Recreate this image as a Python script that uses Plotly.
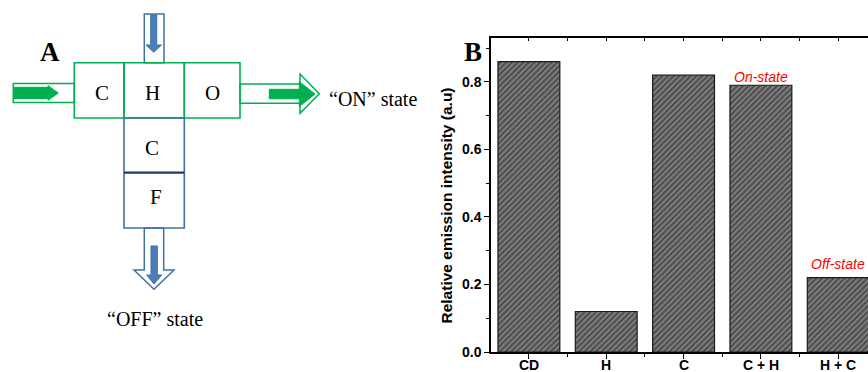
import plotly.graph_objects as go

# ---------------- data ----------------
categories = ["CD", "H", "C", "C + H", "H + C"]
values = [0.86, 0.12, 0.82, 0.79, 0.22]
ytick_vals = [0.0, 0.2, 0.4, 0.6, 0.8]
state_labels = {3: "On-state", 4: "Off-state"}

W, H = 868, 372
SERIF = "Liberation Serif, Times New Roman, serif"
SANS = "Liberation Sans, Arial, sans-serif"
GREEN = "#00b050"
BLUE_LINE = "#41719c"
BLUE_FILL = "#4a7dbd"
NAVY = "#1f3864"


def px(x, y):
    return x / W, 1 - y / H


def path(points):
    pts = [px(x, y) for x, y in points]
    return "M " + " L ".join(f"{a:.5f},{b:.5f}" for a, b in pts) + " Z"


xs = list(range(len(categories)))

fig = go.Figure()
fig.add_trace(go.Bar(
    x=xs, y=values, width=0.8,
    marker=dict(
        color="#767676",
        line=dict(color="#1a1a1a", width=1.2),
        pattern=dict(shape="/", fgcolor="#0d0d0d", bgcolor="#7c7c7c",
                     size=4, solidity=0.42),
    ),
    hoverinfo="skip", showlegend=False,
))
# helper trace so the top mirror axis exists
fig.add_trace(go.Scatter(x=[0], y=[0], xaxis="x2", yaxis="y", mode="markers",
                         marker=dict(opacity=0), hoverinfo="skip", showlegend=False))

shapes = []
ann = []

# ---------- diagram A ----------
# top blue channel
shapes.append(dict(type="path", path=path([(144.3, 14), (164, 14), (164, 62.7), (144.3, 62.7)]),
                   xref="paper", yref="paper", fillcolor="white", line=dict(color=BLUE_LINE, width=1.5)))
shapes.append(dict(type="path", path=path([(150.7, 15), (156.7, 15), (156.7, 45), (161.5, 45),
                                           (153.7, 52.3), (146, 45), (150.7, 45)]),
                   xref="paper", yref="paper", fillcolor=BLUE_FILL, line=dict(color=BLUE_LINE, width=1)))
# bottom blue hollow arrow
shapes.append(dict(type="path", path=path([(144.3, 228), (163.7, 228), (163.7, 270), (174, 270),
                                           (154, 289.3), (134, 270), (144.3, 270)]),
                   xref="paper", yref="paper", fillcolor="white", line=dict(color=BLUE_LINE, width=1.5)))
shapes.append(dict(type="path", path=path([(151, 246), (157.3, 246), (157.3, 275), (161.7, 275),
                                           (154, 284), (146.7, 275), (151, 275)]),
                   xref="paper", yref="paper", fillcolor=BLUE_FILL, line=dict(color=BLUE_LINE, width=1)))
# left green channel + arrow
shapes.append(dict(type="path", path=path([(13.3, 83.5), (74.3, 83.5), (74.3, 102.5), (13.3, 102.5)]),
                   xref="paper", yref="paper", fillcolor="white", line=dict(color=GREEN, width=1.5)))
shapes.append(dict(type="path", path=path([(13.5, 87.3), (48, 87.3), (48, 85.7), (58.3, 93),
                                           (48, 100.3), (48, 98.5), (13.5, 98.5)]),
                   xref="paper", yref="paper", fillcolor=GREEN, line=dict(color=GREEN, width=1)))
# right green hollow arrow + arrow
shapes.append(dict(type="path", path=path([(240, 84), (300, 84), (300, 74), (319.3, 93.7),
                                           (300, 113.3), (300, 103.3), (240, 103.3)]),
                   xref="paper", yref="paper", fillcolor="white", line=dict(color=GREEN, width=1.5)))
shapes.append(dict(type="path", path=path([(269.3, 89.3), (299.3, 89.3), (299.3, 81.7), (315, 94),
                                           (299.3, 106.5), (299.3, 98.7), (269.3, 98.7)]),
                   xref="paper", yref="paper", fillcolor=GREEN, line=dict(color=GREEN, width=1)))
# green boxes
for x0, x1 in [(74.3, 124), (124, 184.3), (184.3, 240)]:
    shapes.append(dict(type="path", path=path([(x0, 62.7), (x1, 62.7), (x1, 118), (x0, 118)]),
                       xref="paper", yref="paper", fillcolor="rgba(0,0,0,0)",
                       line=dict(color=GREEN, width=1.6)))
# blue boxes
shapes.append(dict(type="path", path=path([(124, 118), (184.3, 118), (184.3, 228), (124, 228)]),
                   xref="paper", yref="paper", fillcolor="rgba(0,0,0,0)",
                   line=dict(color=BLUE_LINE, width=1.6)))
x0, y0 = px(124, 172.7)
x1, _ = px(184.3, 172.7)
shapes.append(dict(type="line", x0=x0, x1=x1, y0=y0, y1=y0, xref="paper", yref="paper",
                   line=dict(color=NAVY, width=2.2)))

for t, x, y in [("C", 102, 93), ("H", 152, 93), ("O", 212, 93), ("C", 152, 148), ("F", 155.7, 197)]:
    a, b = px(x, y)
    ann.append(dict(text=t, x=a, y=b, xref="paper", yref="paper", showarrow=False,
                    xanchor="center", yanchor="middle", font=dict(family=SERIF, size=21, color="black")))
for t, x, y in [("\u201cON\u201d state", 373, 99), ("\u201cOFF\u201d state", 155, 319)]:
    a, b = px(x, y)
    ann.append(dict(text=t, x=a, y=b, xref="paper", yref="paper", showarrow=False,
                    xanchor="center", yanchor="middle", font=dict(family=SERIF, size=20, color="black")))
for t, x, y in [("<b>A</b>", 50, 52), ("<b>B</b>", 473, 52)]:
    a, b = px(x, y)
    ann.append(dict(text=t, x=a, y=b, xref="paper", yref="paper", showarrow=False,
                    xanchor="center", yanchor="middle", font=dict(family=SERIF, size=27, color="black")))

# y axis title
a, b = px(446, 205.5)
ann.append(dict(text="<b>Relative emission intensity (a.u)</b>", x=a, y=b, xref="paper", yref="paper",
                showarrow=False, textangle=-90, xanchor="center", yanchor="middle",
                font=dict(family=SANS, size=15.5, color="black")))

# x category labels (placed on the x scale, just below the axis)
_, ylab = px(0, 364.5)
for xi, c in zip(xs, categories):
    ann.append(dict(text=f"<b>{c}</b>", x=xi, y=ylab, xref="x", yref="paper", showarrow=False,
                    xanchor="center", yanchor="middle", font=dict(family=SANS, size=14, color="black")))

# state labels
for i, txt in state_labels.items():
    ann.append(dict(text=f"<i>{txt}</i>", x=xs[i], y=values[i], xref="x", yref="y", showarrow=False,
                    xanchor="center", yanchor="bottom", yshift=-2 if i == 3 else 4,
                    font=dict(family=SANS, size=14, color="#ff0000")))

xr = [-0.49, 4.385]
fig.update_layout(
    width=W, height=H, margin=dict(l=0, r=0, t=0, b=0, autoexpand=False),
    paper_bgcolor="white", plot_bgcolor="white",
    bargap=0.2, showlegend=False,
    shapes=shapes, annotations=ann,
    xaxis=dict(domain=[491 / W, 1], range=xr, tickvals=xs, showticklabels=False,
               automargin=False,
               ticks="outside", ticklen=5, tickwidth=1.3, tickcolor="black",
               showline=True, linecolor="black", linewidth=1.5, showgrid=False, zeroline=False,
               minor=dict(tickvals=[i + 0.5 for i in xs], ticks="outside", ticklen=3, tickwidth=1.3,
                          tickcolor="black", showgrid=False)),
    xaxis2=dict(overlaying="x", side="top", anchor="y", range=xr, automargin=False,
                tickvals=[i * 0.5 for i in range(-1, 10)], ticks="inside", ticklen=3, tickwidth=1.2,
                tickcolor="black", showticklabels=False, showline=True, linecolor="black",
                linewidth=1.5, showgrid=False, zeroline=False),
    yaxis=dict(domain=[20 / H, 334 / H], range=[0, 0.93], tickvals=ytick_vals,
               ticktext=[f"<b>{v:.1f}</b>" for v in ytick_vals], automargin=False,
               ticks="outside", ticklen=5, tickwidth=1.3, tickcolor="black",
               showline=True, linecolor="black", linewidth=1.5, showgrid=False, zeroline=False,
               tickfont=dict(family=SANS, size=14, color="black"),
               minor=dict(tick0=0.1, dtick=0.2, ticks="outside", ticklen=3, tickwidth=1.3,
                          tickcolor="black", showgrid=False)),
)

fig.write_html("out.html")
